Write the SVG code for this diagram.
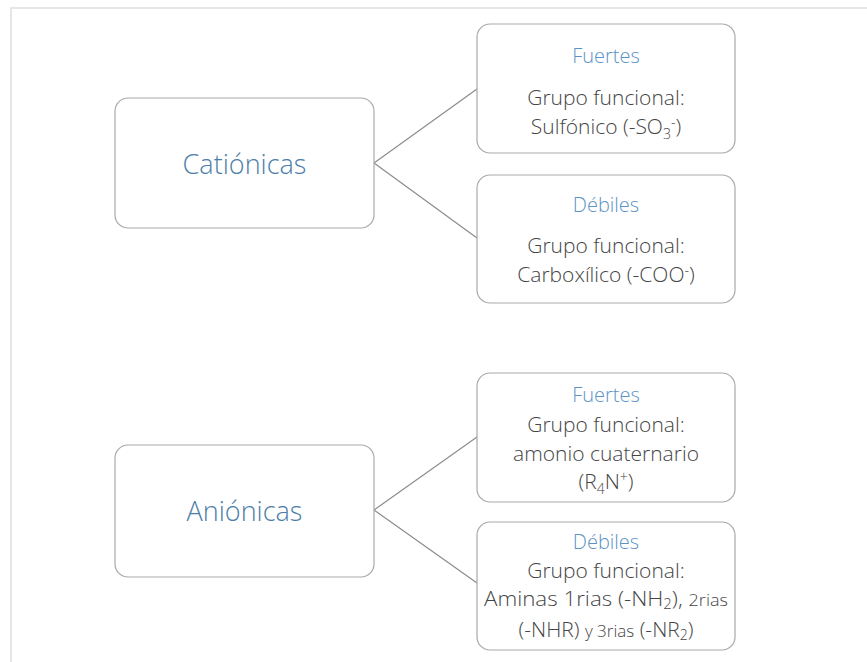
<svg xmlns="http://www.w3.org/2000/svg" width="867" height="662" viewBox="0 0 867 662">
  <style>
    .box { fill: #ffffff; stroke: #a9a9a9; stroke-width: 1.2; }
    .link { stroke: #8c8c8c; stroke-width: 1.2; fill: none; }
    .frame { stroke: #e6e6e6; stroke-width: 2; fill: none; }
    text { font-family: "Open Sans", "Noto Sans", "DejaVu Sans", sans-serif; font-weight: 300; text-anchor: middle; }
    .main { font-size: 27px; fill: #4d7ea8; }
    .head { font-size: 20px; fill: #5b93c7; }
    .body { font-size: 21px; fill: #454545; }
    .small { font-size: 14px; }
    .narrow { font-size: 17px; }
  </style>

  <!-- outer frame -->
  <path class="frame" d="M11 662 V8 H867"/>

  <!-- connectors -->
  <g id="connectors">
    <path class="link" d="M477 89 L374 163 L477 238"/>
    <path class="link" d="M477 437 L374 510 L477 583"/>
  </g>

  <g id="cationicas">
    <rect class="box" x="115" y="98" width="259" height="130" rx="13"/>
    <text class="main" x="244.5" y="174">Catiónicas</text>
  </g>

  <g id="anionicas">
    <rect class="box" x="115" y="445" width="259" height="132" rx="13"/>
    <text class="main" x="244.5" y="521">Aniónicas</text>
  </g>

  <g id="cat-fuertes">
    <rect class="box" x="477" y="24" width="258" height="129" rx="13"/>
    <text class="head" x="606" y="63">Fuertes</text>
    <text class="body" x="606" y="105">Grupo funcional:</text>
    <text class="body" x="606" y="134">Sulfónico (-SO<tspan class="small" dy="5">3</tspan><tspan class="small" dy="-12">-</tspan><tspan dy="7">)</tspan></text>
  </g>

  <g id="cat-debiles">
    <rect class="box" x="477" y="175" width="258" height="128" rx="13"/>
    <text class="head" x="606" y="212">Débiles</text>
    <text class="body" x="606" y="253">Grupo funcional:</text>
    <text class="body" x="606" y="282">Carboxílico (-COO<tspan class="small" dy="-7">-</tspan><tspan dy="7">)</tspan></text>
  </g>

  <g id="ani-fuertes">
    <rect class="box" x="477" y="373" width="258" height="129" rx="13"/>
    <text class="head" x="606" y="402">Fuertes</text>
    <text class="body" x="606" y="432">Grupo funcional:</text>
    <text class="body" x="606" y="461">amonio cuaternario</text>
    <text class="body" x="606" y="489">(R<tspan class="small" dy="5">4</tspan><tspan dy="-5">N</tspan><tspan class="small" dy="-7">+</tspan><tspan dy="7">)</tspan></text>
  </g>

  <g id="ani-debiles">
    <rect class="box" x="477" y="522" width="258" height="128" rx="13"/>
    <text class="head" x="606" y="549">Débiles</text>
    <text class="body" x="606" y="578">Grupo funcional:</text>
    <text class="body" x="606" y="606" textLength="244" lengthAdjust="spacingAndGlyphs">Aminas 1rias (-NH<tspan class="small" dy="3">2</tspan><tspan dy="-3">), </tspan><tspan class="narrow">2rias</tspan></text>
    <text class="body" x="606" y="637">(-NHR) <tspan class="narrow">y 3rias</tspan> (-NR<tspan class="small" dy="3">2</tspan><tspan dy="-3">)</tspan></text>
  </g>
</svg>
